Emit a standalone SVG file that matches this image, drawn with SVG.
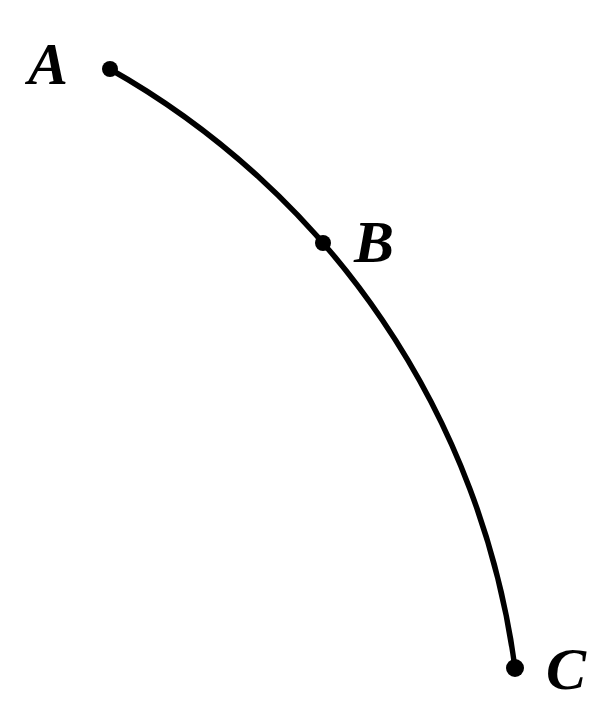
<svg xmlns="http://www.w3.org/2000/svg" width="604" height="703" viewBox="0 0 604 703">
<style>
.lbl{font-family:"Liberation Serif","Times New Roman",serif;font-style:italic;font-weight:bold;font-size:60px;fill:#000}
.pt{fill:#000}
</style>
<rect width="604" height="703" fill="#fff"/>
<g id="connectors">
<path d="M108,68 A811,811 0 0 1 515,668" fill="none" stroke="#000" stroke-width="5.5"/>
</g>
<g id="A"><circle class="pt" cx="110" cy="69" r="8"/><text class="lbl" x="28" y="84">A</text></g>
<g id="B"><circle class="pt" cx="323" cy="243" r="8"/><text class="lbl" x="354" y="262">B</text></g>
<g id="C"><circle class="pt" cx="515" cy="668" r="9"/><text class="lbl" x="546" y="689">C</text></g>
</svg>
